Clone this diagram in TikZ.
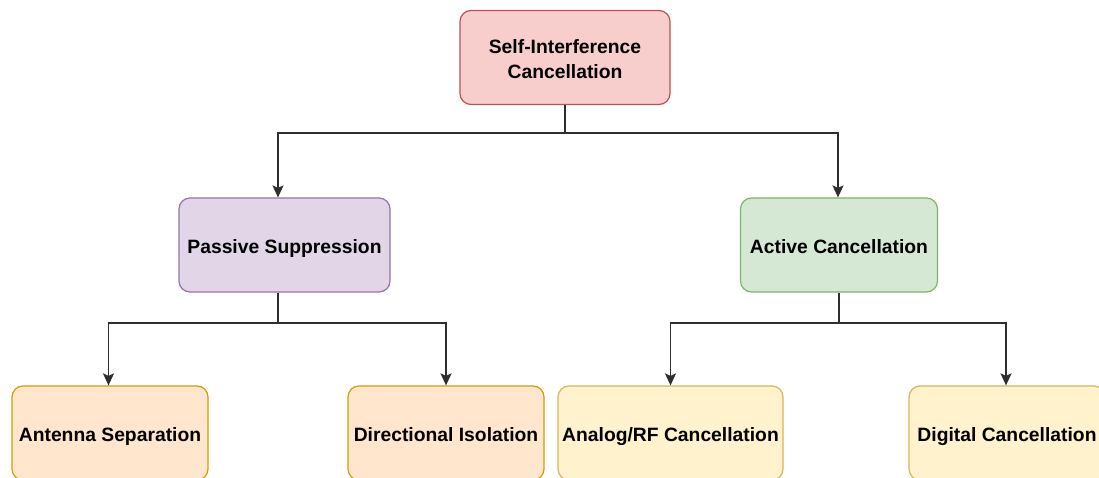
\documentclass[tikz,border=0pt]{standalone}
\usepackage{fontspec}
\setmainfont{Liberation Sans}
\usetikzlibrary{arrows.meta}
\definecolor{redfill}{HTML}{F8CECC}\definecolor{redline}{HTML}{B85450}
\definecolor{purfill}{HTML}{E1D5E7}\definecolor{purline}{HTML}{9673A6}
\definecolor{grnfill}{HTML}{D5E8D4}\definecolor{grnline}{HTML}{82B366}
\definecolor{orgfill}{HTML}{FFE6CC}\definecolor{orgline}{HTML}{D79B00}
\definecolor{yelfill}{HTML}{FFF2CC}\definecolor{yelline}{HTML}{D6B656}
\tikzset{
  box/.style={draw, line width=1.2pt, rounded corners=11pt, minimum height=94pt,
    align=center, font=\fontsize{19.3pt}{25pt}\selectfont\bfseries, inner sep=2pt},
  one/.style={text height=17.5pt, text depth=1pt},
  redbox/.style={box, fill=redfill, draw=redline},
  purbox/.style={box, one, fill=purfill, draw=purline},
  grnbox/.style={box, one, fill=grnfill, draw=grnline},
  orgbox/.style={box, one, fill=orgfill, draw=orgline},
  yelbox/.style={box, one, fill=yelfill, draw=yelline},
  conn/.style={line width=1.7pt, draw=black!82, -{Stealth[length=12pt,width=11pt,inset=2.5pt]}},
}
\begin{document}
\begin{tikzpicture}[x=1pt,y=-1pt]
\useasboundingbox (0,0) rectangle (1099,478);
\clip (0,0) rectangle (1099,478);
\fill[white] (0,0) rectangle (1099,478);
\node[redbox, minimum width=210pt] (top) at (565,57.5) {\rule{0pt}{18pt}Self-Interference\\Cancellation};
\node[purbox, minimum width=211pt] (pas) at (284.5,245) {Passive Suppression};
\node[grnbox, minimum width=197pt] (act) at (839,245) {Active Cancellation};
\node[orgbox, minimum width=196pt] (ant) at (110,433) {Antenna Separation};
\node[orgbox, minimum width=196pt] (dir) at (446,433) {Directional Isolation};
\node[yelbox, minimum width=225pt] (ana) at (670.5,433) {Analog/RF Cancellation};
\node[yelbox, minimum width=196pt] (dig) at (1007,433) {Digital Cancellation};
\coordinate (j1) at (565,133);
\coordinate (j2) at (278,323);
\coordinate (j3) at (839,323);
\draw[conn] (top.south) -- (j1) -| ([xshift=-6.5pt]pas.north);
\draw[conn] (j1) -| ([xshift=-1pt]act.north);
\draw[conn] ([xshift=-6.5pt]pas.south) -- (j2) -| ([xshift=-1.5pt]ant.north);
\draw[conn] (j2) -| (dir.north);
\draw[conn] (act.south) -- (j3) -| (ana.north);
\draw[conn] (j3) -| ([xshift=-1pt]dig.north);
\end{tikzpicture}
\end{document}
